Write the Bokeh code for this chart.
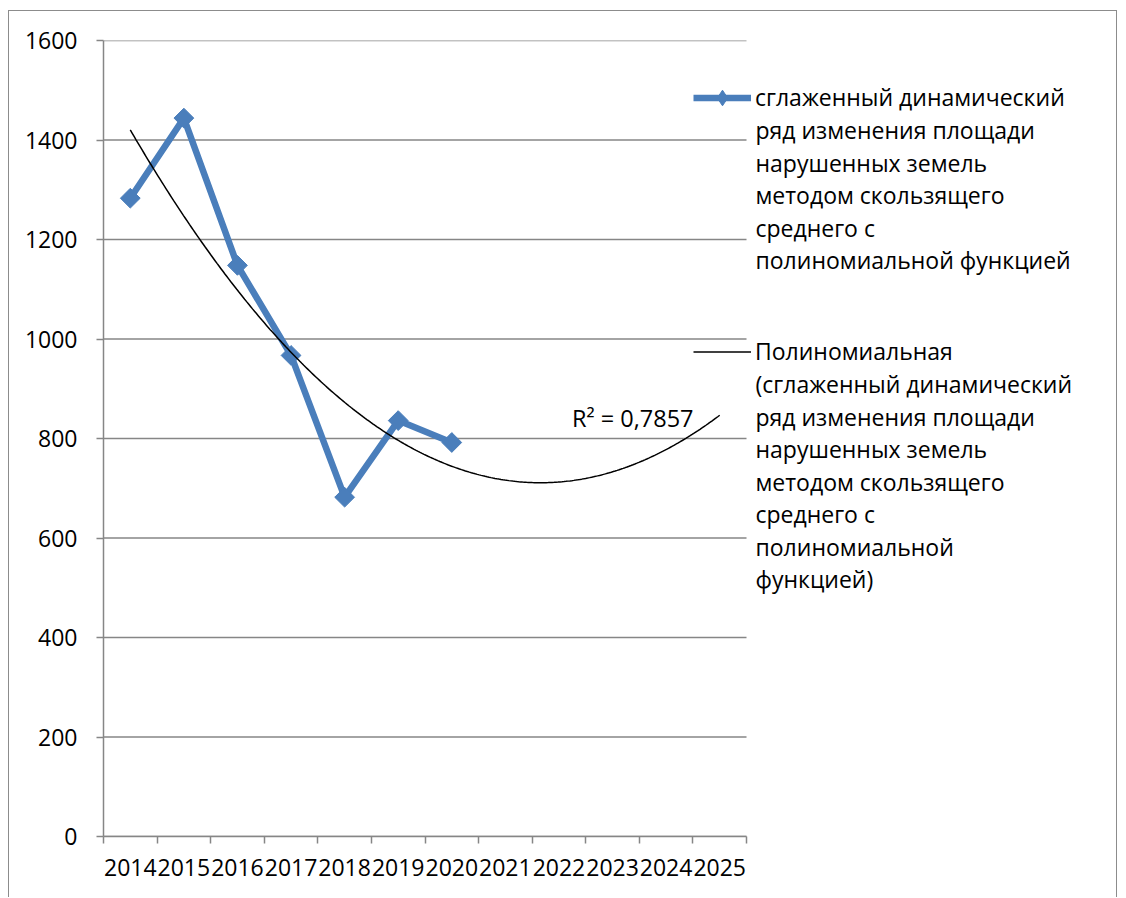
import numpy as np
from bokeh.plotting import figure
from bokeh.models import Range1d, FixedTicker, Legend, LegendItem, Label
from bokeh.core.properties import value
from bokeh.embed import file_html
from bokeh.resources import INLINE

# ---- data ----
years = [2014, 2015, 2016, 2017, 2018, 2019, 2020]
smoothed = [1283, 1444, 1148, 967, 682, 836, 792]
axis_years = list(range(2014, 2026))
y_ticks = [0, 200, 400, 600, 800, 1000, 1200, 1400, 1600]
series_label_lines = ["сглаженный динамический", "ряд изменения площади", "нарушенных земель",
                      "методом скользящего", "среднего с", "полиномиальной функцией"]
trend_label_lines = ["Полиномиальная", "(сглаженный динамический", "ряд изменения площади",
                     "нарушенных земель", "методом скользящего", "среднего с",
                     "полиномиальной", "функцией)"]
r2_text = "R² = 0,7857"

# polynomial (2nd order) trend on period index, forecast forward to last axis year
idx = np.arange(1, len(smoothed) + 1)
coef = np.polyfit(idx, smoothed, 2)
t_idx = np.linspace(1, len(axis_years), 300)
trend_y = np.polyval(coef, t_idx)
trend_x = t_idx - 1 + axis_years[0]

FONT = "Open Sans"
GRID = "#868686"
BLUE = "#4A7EBB"

x0 = axis_years[0] - 0.5
x1 = axis_years[-1] + 0.5
# frame spans the plot area plus the legend area on its right (1015 px vs 643 px of axis)
FRAME_L, AXIS_W, FRAME_W = 103.0, 643.0, 1015.0
FRAME_B, FRAME_H = 836.0, 796.0
x_end = x0 + (x1 - x0) * FRAME_W / AXIS_W


def px_to_x(px):
    return x0 + (px - FRAME_L) / AXIS_W * (x1 - x0)


def py_to_y(py):
    return (FRAME_B - py) / FRAME_H * (y_ticks[-1] - y_ticks[0])


p = figure(width=1109, height=887, output_backend="svg", toolbar_location=None,
           x_range=Range1d(x0, x_end), y_range=Range1d(y_ticks[0], y_ticks[-1]),
           min_border_left=94, min_border_right=0, min_border_top=29, min_border_bottom=62)
p.outline_line_color = None
p.background_fill_color = "white"
p.border_fill_color = "white"
p.styles = {"margin-left": "8px", "margin-top": "10px",
            "border-left": "1px solid #8c8c8c", "border-top": "1px solid #8c8c8c",
            "border-right": "1px solid #8c8c8c"}

# axes
yt = FixedTicker(ticks=y_ticks)
p.yaxis.ticker = yt
p.xgrid.visible = False
p.ygrid.visible = False
# horizontal gridlines limited to the category axis extent
p.segment(x0=[x0] * len(y_ticks), x1=[x1] * len(y_ticks), y0=y_ticks, y1=y_ticks,
          line_color=GRID, line_width=1.5)

xt = FixedTicker(ticks=axis_years, minor_ticks=[y - 0.5 for y in axis_years] + [x1])
p.xaxis.ticker = xt
p.xaxis.bounds = (x0, x1)
for ax in (p.xaxis[0], p.yaxis[0]):
    ax.axis_line_color = GRID
    ax.axis_line_width = 1.5
    ax.major_tick_line_color = GRID
    ax.major_tick_line_width = 1.5
    ax.minor_tick_line_color = GRID
    ax.minor_tick_line_width = 1.5
    ax.major_label_text_font = FONT
    ax.major_label_text_font_size = "23px"
    ax.major_label_text_color = "black"
    ax.major_tick_in = 0
    ax.minor_tick_in = 0

p.xaxis.major_tick_out = 0
p.xaxis.minor_tick_out = 7
p.xaxis.major_label_standoff = 15
p.yaxis.major_tick_out = 7
p.yaxis.minor_tick_out = 0
p.yaxis.major_label_standoff = 19

# series
r_line = p.line(years, smoothed, line_color=BLUE, line_width=6.5)
# diamond renderer (used for the legend key); fully covered by the rotated squares below
r_key = p.scatter(years, smoothed, marker="diamond", size=16, fill_color=BLUE, line_color=BLUE)
p.scatter(years, smoothed, marker="square", angle=np.pi / 4, size=14,
          fill_color=BLUE, line_color=BLUE)
r_trend = p.line(trend_x, trend_y, line_color="black", line_width=1.5)

p.add_layout(Label(x=x1, y=py_to_y(417), text=r2_text, text_align="right",
                   text_baseline="middle", text_font=FONT, text_font_size="23.5px", text_color="black",
                   x_offset=-53))

LEGEND_FS = "23px"
LINE_STEP = 32.5
FIRST1, FIRST2 = 97.0, 351.0
ITEM_H = 39
legend = Legend(items=[LegendItem(label=series_label_lines[0], renderers=[r_line, r_key]),
                       LegendItem(label=trend_label_lines[0], renderers=[r_trend])],
                location=(590, FRAME_H - (FIRST1 - ITEM_H / 2 - 40) - (FIRST2 - FIRST1 + ITEM_H)),
                border_line_color=None, background_fill_alpha=0,
                padding=0, margin=0, spacing=int(FIRST2 - FIRST1 - ITEM_H),
                glyph_width=58, glyph_height=ITEM_H, label_height=ITEM_H,
                label_standoff=4, label_text_font=FONT, label_text_font_size=LEGEND_FS,
                label_text_color="black")
p.add_layout(legend, "center")

# continuation lines of the wrapped legend labels
cont_text, cont_y = [], []
for first, lines in ((FIRST1, series_label_lines), (FIRST2, trend_label_lines)):
    for k, t in enumerate(lines[1:], start=1):
        cont_text.append(t)
        cont_y.append(py_to_y(first + k * LINE_STEP))
p.text(x=[px_to_x(755)] * len(cont_text), y=cont_y, text=cont_text,
       text_font=value(FONT), text_font_size=LEGEND_FS, text_color="black",
       text_baseline="middle", text_align="left")

open("out.html", "w").write(file_html(p, INLINE))
